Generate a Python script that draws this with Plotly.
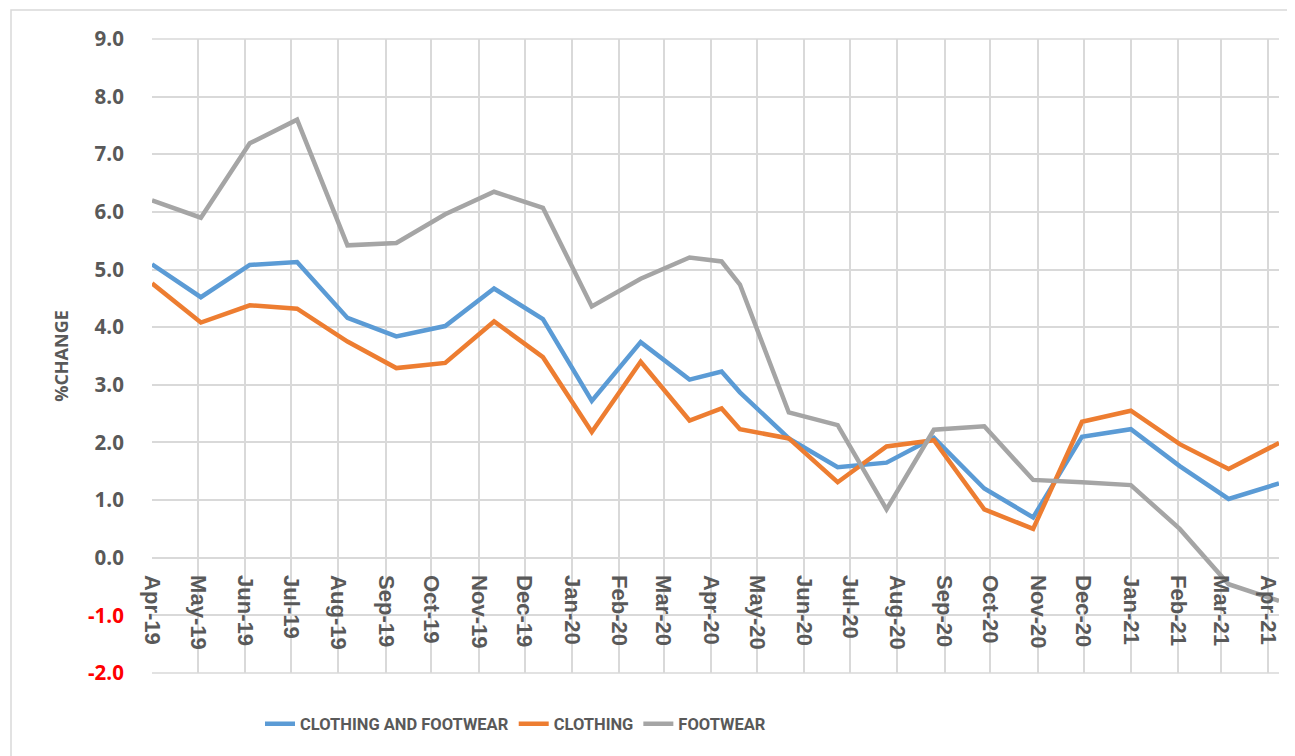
import plotly.graph_objects as go

dates = ["2019-04-01", "2019-05-03", "2019-06-04", "2019-07-05", "2019-08-07",
         "2019-09-08", "2019-10-10", "2019-11-11", "2019-12-13", "2020-01-14",
         "2020-02-15", "2020-03-18", "2020-04-08", "2020-04-20", "2020-05-22",
         "2020-06-23", "2020-07-25", "2020-08-25", "2020-09-27", "2020-10-29",
         "2020-11-30", "2021-01-01", "2021-02-02", "2021-03-06", "2021-04-08"]

clothing_footwear = [5.09, 4.52, 5.08, 5.13, 4.16, 3.84, 4.02, 4.67, 4.14, 2.72,
                     3.74, 3.09, 3.23, 2.87, 2.07, 1.57, 1.65, 2.08, 1.20, 0.70,
                     2.10, 2.23, 1.59, 1.02, 1.29]
clothing = [4.76, 4.08, 4.38, 4.32, 3.75, 3.29, 3.38, 4.10, 3.48, 2.18,
            3.40, 2.38, 2.59, 2.23, 2.07, 1.31, 1.93, 2.04, 0.84, 0.50,
            2.36, 2.55, 1.97, 1.54, 1.99]
footwear = [6.20, 5.90, 7.19, 7.60, 5.42, 5.46, 5.96, 6.35, 6.07, 4.36,
            4.84, 5.21, 5.14, 4.74, 2.52, 2.30, 0.84, 2.22, 2.28, 1.35,
            1.31, 1.26, 0.50, -0.46, -0.75]

series_names = ["CLOTHING AND FOOTWEAR", "CLOTHING", "FOOTWEAR"]
series_colors = ["#5B9BD5", "#ED7D31", "#A5A5A5"]

y_ticks = [-2, -1, 0, 1, 2, 3, 4, 5, 6, 7, 8, 9]
x_range = ["2019-04-01", "2021-04-08"]

TXT = "#595959"
GRID = "#D9D9D9"

fig = go.Figure()
for name, vals, col in zip(series_names, [clothing_footwear, clothing, footwear], series_colors):
    fig.add_trace(go.Scatter(x=dates, y=vals, mode="lines", name=name,
                             line=dict(color=col, width=4.5)))

ytext = []
for v in y_ticks:
    s = f"{v:.1f}"
    if v < 0:
        s = f"<span style='color:#FF0000'>{s}</span>"
    ytext.append(s)

# page body has an 8px margin: the figure is sized so it ends at the window edge
OFF = 8
W, H = 1295 - OFF, 756 - OFF
L, R, T, B = 152 - OFF, 16, 39 - OFF, 83
ph = H - T - B
pw = W - L - R

fig.update_layout(
    width=W, height=H,
    margin=dict(l=L, r=R, t=T, b=B),
    plot_bgcolor="white", paper_bgcolor="white",
    showlegend=True,
    legend=dict(orientation="h", x=(260 - OFF - L) / pw, xanchor="left",
                y=(H - B - (724 - OFF)) / ph, yanchor="middle",
                font=dict(family="Roboto, sans-serif", size=16.5, color=TXT, weight="bold"),
                itemwidth=30, bgcolor="rgba(0,0,0,0)"),
    xaxis=dict(type="date", range=x_range, tick0="2019-04-01", dtick="M1",
               tickformat="%b-%y", tickangle=90,
               tickfont=dict(family="Liberation Sans, Arial, sans-serif", size=22,
                             color=TXT, weight="bold"),
               ticks="outside", ticklen=12, tickcolor="rgba(0,0,0,0)",
               showgrid=True, gridcolor=GRID, gridwidth=1.5,
               showline=False, zeroline=False,
               anchor="free", position=2 / 11),
    yaxis=dict(range=[-2, 9], tickvals=y_ticks, ticktext=ytext,
               tickfont=dict(family="Open Sans, sans-serif", size=20.5, color=TXT, weight="bold"),
               ticks="outside", ticklen=23, tickcolor="rgba(0,0,0,0)",
               showgrid=True, gridcolor=GRID, gridwidth=1.5,
               showline=False, zeroline=False,
               title=dict(text="%CHANGE", standoff=14,
                          font=dict(family="Open Sans, sans-serif", size=18, color=TXT, weight="bold"))),
    shapes=[
        dict(type="rect", xref="paper", yref="paper",
             x0=(11 - OFF - L) / pw, x1=1.1, y0=-0.3, y1=(H - B - (10 - OFF)) / ph,
             line=dict(color=GRID, width=1.5), fillcolor="rgba(0,0,0,0)", layer="below"),
        dict(type="line", xref="paper", yref="paper", x0=0, x1=1, y0=1, y1=1,
             line=dict(color=GRID, width=1.5), layer="below"),
        dict(type="line", xref="paper", yref="paper", x0=0, x1=1, y0=0, y1=0,
             line=dict(color=GRID, width=1.5), layer="below"),
    ],
)

fig.write_html("out.html")
